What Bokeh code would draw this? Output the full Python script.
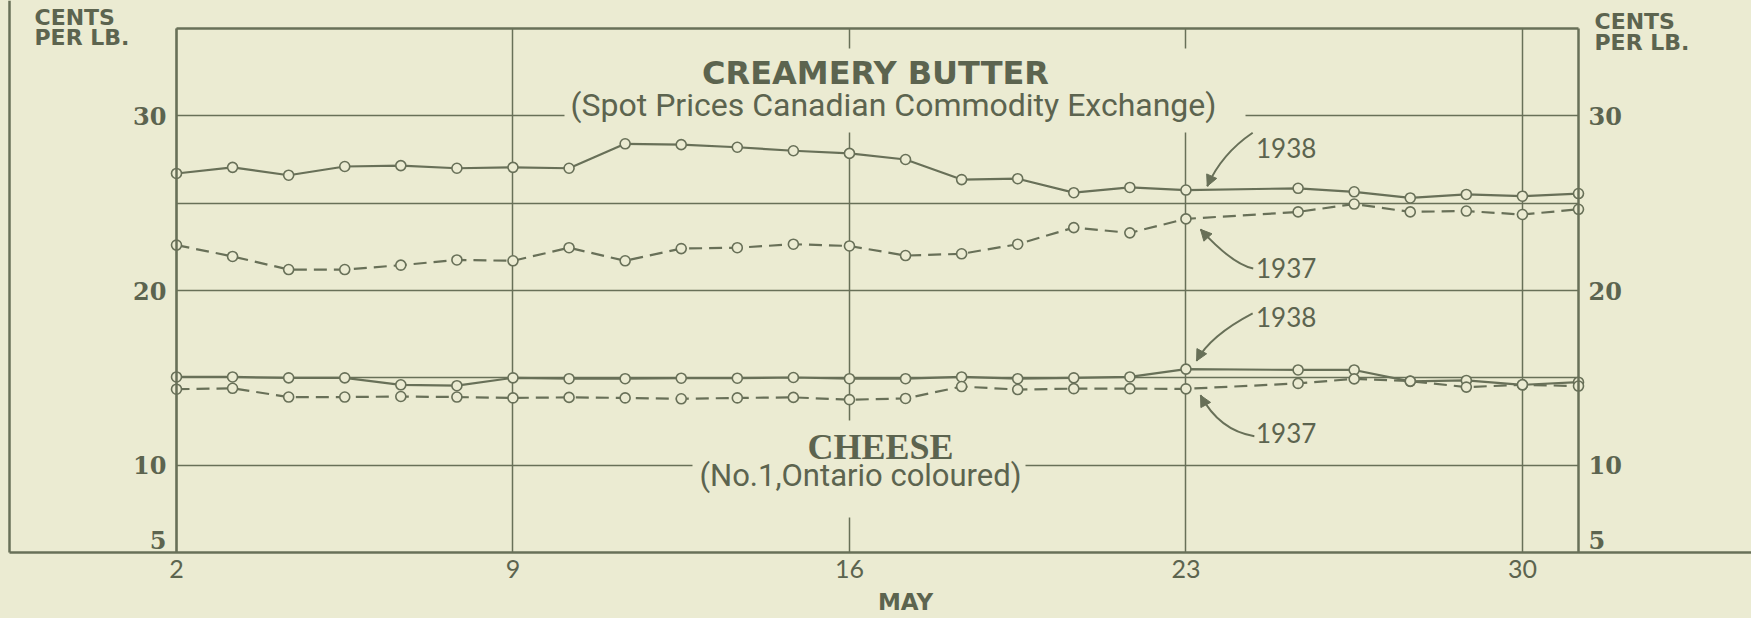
import datetime as dt
from bokeh.plotting import figure
from bokeh.models import (Range1d, LinearAxis, FixedTicker, Label, BoxAnnotation,
                          Arrow, NormalHead, ColumnDataSource)
from bokeh.embed import file_html
from bokeh.resources import INLINE

# ---------------- data (cents per lb), trading days of May ----------------
days = [2, 3, 4, 5, 6, 7, 9, 10, 11, 12, 13, 14, 16, 17, 18, 19, 20, 21,
        23, 25, 26, 27, 28, 30, 31]
butter_1938 = [26.7, 27.05, 26.6, 27.1, 27.15, 27.0, 27.05, 27.0, 28.4, 28.35,
               28.2, 28.0, 27.85, 27.5, 26.35, 26.4, 25.6, 25.9, 25.75, 25.85,
               25.65, 25.3, 25.5, 25.4, 25.55]
butter_1937 = [22.6, 21.95, 21.2, 21.2, 21.45, 21.75, 21.7, 22.45, 21.7, 22.4,
               22.45, 22.65, 22.55, 22.0, 22.1, 22.65, 23.6, 23.3, 24.1, 24.5,
               24.95, 24.5, 24.55, 24.35, 24.65]
cheese_1938 = [15.05, 15.05, 15.0, 15.0, 14.6, 14.55, 15.0, 14.95, 14.95, 14.98,
               14.98, 15.02, 14.95, 14.95, 15.05, 14.95, 15.0, 15.05, 15.5, 15.45,
               15.45, 14.8, 14.85, 14.6, 14.75]
cheese_1937 = [14.35, 14.4, 13.9, 13.9, 13.93, 13.9, 13.85, 13.88, 13.85, 13.8,
               13.85, 13.88, 13.75, 13.82, 14.5, 14.33, 14.38, 14.38, 14.37, 14.68,
               14.94, 14.81, 14.47, 14.6, 14.53]
x_tick_days = [2, 9, 16, 23, 30]
y_tick_values = [5, 10, 20, 30]
y_grid_values = [10, 15, 20, 25, 30]
first_day, last_day = 2, 31
y_lo, y_hi = 5, 35

# ---------------- style / layout ----------------
BG = "#EBEBD2"
INK = "#687058"
TXT = "#5C644F"
W, H = 1751, 618
BOX_L, BOX_R, BOX_T, BOX_B = 176, 1578, 28, 552   # chart box on the sheet (px)

START = dt.date(1938, 5, 2)


def trading_pos(day):
    """Position on the chart's business-day axis (Sundays are not shown)."""
    d = dt.date(1938, 5, day)
    return sum(1 for k in range((d - START).days)
               if (START + dt.timedelta(days=k)).weekday() != 6)


x_lo, x_hi = trading_pos(first_day), trading_pos(last_day)
kx = (BOX_R - BOX_L) / (x_hi - x_lo)
ky = (BOX_B - BOX_T) / (y_hi - y_lo)


def X(px):
    return x_lo + (px - BOX_L) / kx


def Y(py):
    return y_hi - (py - BOX_T) / ky


xs = [trading_pos(d) for d in days]
src = ColumnDataSource(dict(x=xs, b38=butter_1938, b37=butter_1937,
                            c38=cheese_1938, c37=cheese_1937))

p = figure(width=W, height=H, output_backend="svg", toolbar_location=None,
           x_range=Range1d(X(0), X(W)), y_range=Range1d(Y(H), Y(0)),
           min_border=0, background_fill_color=BG, border_fill_color=BG)
p.outline_line_color = None

# grids limited to the chart box
xg, yg = p.xgrid[0], p.ygrid[0]
xg.ticker = FixedTicker(ticks=[trading_pos(d) for d in x_tick_days])
xg.cross_bounds = (y_lo, y_hi)
yg.ticker = FixedTicker(ticks=y_grid_values)
yg.cross_bounds = (x_lo, x_hi)
for g in (xg, yg):
    g.grid_line_color = INK
    g.grid_line_width = 1.5


def style_axis(ax, width=2.5):
    ax.axis_line_color = INK
    ax.axis_line_width = width
    ax.major_tick_line_color = None
    ax.minor_tick_line_color = None
    ax.major_tick_out = 0
    ax.major_tick_in = 0
    ax.minor_tick_out = 0
    ax.minor_tick_in = 0


# x axis (bottom edge of the sheet frame)
xa = p.xaxis[0]
xa.fixed_location = y_lo
xa.bounds = (X(9), X(W))
xa.ticker = FixedTicker(ticks=[trading_pos(d) for d in x_tick_days])
xa.major_label_overrides = {trading_pos(d): str(d) for d in x_tick_days}
style_axis(xa)
xa.major_label_text_font = "Lato"
xa.major_label_text_font_size = "25px"
xa.major_label_text_color = TXT
xa.major_label_standoff = 7

# y axes: left and right edges of the chart box.  The lowest label sits just
# above the bottom edge, as it is lettered on the sheet.
label_pos = {v: (Y(BOX_B - 13) if v == y_lo else v) for v in y_tick_values}
ya = p.yaxis[0]
ya.fixed_location = x_lo
yr = LinearAxis(fixed_location=x_hi)
p.add_layout(yr, "right")
for ax in (ya, yr):
    ax.bounds = (y_lo, y_hi)
    ax.ticker = FixedTicker(ticks=list(label_pos.values()))
    ax.major_label_overrides = {pos: str(v) for v, pos in label_pos.items()}
    style_axis(ax)
    ax.major_label_text_font = "DejaVu Serif"
    ax.major_label_text_font_style = "bold"
    ax.major_label_text_font_size = "24px"
    ax.major_label_text_color = TXT
    ax.major_label_standoff = 10

# top edge of the chart box and left edge of the sheet
top = LinearAxis(fixed_location=y_hi, bounds=(x_lo, x_hi), ticker=FixedTicker(ticks=[]))
style_axis(top)
p.add_layout(top, "above")
sheet = LinearAxis(fixed_location=X(9), bounds=(y_lo, Y(0)), ticker=FixedTicker(ticks=[]))
style_axis(sheet)
p.add_layout(sheet, "left")

# masks that interrupt the grid behind the titles
p.add_layout(BoxAnnotation(left=X(564), right=X(1245), bottom=Y(132), top=Y(48),
                           fill_color=BG, fill_alpha=1.0, line_color=None))
p.add_layout(BoxAnnotation(left=X(692), right=X(1025), bottom=Y(517), top=Y(420),
                           fill_color=BG, fill_alpha=1.0, line_color=None))

# series
for col, dash in (("b38", "solid"), ("b37", "13 7"), ("c38", "solid"), ("c37", "13 7")):
    p.line("x", col, source=src, line_color=INK, line_width=2.2, line_dash=dash)
    p.scatter("x", col, source=src, marker="circle", size=10, line_color=INK,
              line_width=1.6, fill_color=BG)


def label(x, y, text, font, size, style="normal", align="center", baseline="middle"):
    p.add_layout(Label(x=x, y=y, text=text, text_font=font, text_font_size=size,
                       text_font_style=style, text_align=align,
                       text_baseline=baseline, text_color=TXT))


# titles
label(X(875), Y(72), "CREAMERY BUTTER", "DejaVu Sans", "32px", "bold")
label(X(893), Y(104), "(Spot Prices Canadian Commodity Exchange)", "Roboto", "32px")
label(X(880), Y(446), "CHEESE", "Liberation Serif", "36px", "bold")
label(X(860), Y(475), "(No.1,Ontario coloured)", "Roboto", "31px")

# units and month
label(X(34), Y(17), "CENTS", "DejaVu Sans", "22px", "bold", "left")
label(X(34), Y(37), "PER LB.", "DejaVu Sans", "22px", "bold", "left")
label(X(1594), Y(21), "CENTS", "DejaVu Sans", "22px", "bold", "left")
label(X(1594), Y(42), "PER LB.", "DejaVu Sans", "22px", "bold", "left")
label(X(905), Y(588), "MAY", "DejaVu Sans", "23px", "bold", "center", "top")

# year call-outs with curved arrows: (text y, start, mid, tip) in data units
callouts = [
    ("1938", 28.15, (19.19, 29.03), (18.71, 27.66), (18.38, 25.97)),
    ("1937", 21.3, (19.2, 21.26), (18.78, 21.94), (18.26, 23.5)),
    ("1938", 18.46, (19.19, 18.69), (18.56, 17.37), (18.19, 15.97)),
    ("1937", 11.83, (19.22, 11.66), (18.67, 12.4), (18.26, 14.0)),
]
for txt, ty, s, m, t in callouts:
    label(19.25, ty, txt, "Lato", "26px", "normal", "left")
    cx = 2 * m[0] - 0.5 * (s[0] + t[0])
    cy = 2 * m[1] - 0.5 * (s[1] + t[1])
    p.quadratic(x0=[s[0]], y0=[s[1]], x1=[t[0]], y1=[t[1]], cx=[cx], cy=[cy],
                line_color=INK, line_width=2)
    bx = t[0] + 0.2 * (cx - t[0])
    by = t[1] + 0.2 * (cy - t[1])
    p.add_layout(Arrow(end=NormalHead(size=11, fill_color=INK, line_color=INK),
                       x_start=bx, y_start=by, x_end=t[0], y_end=t[1],
                       line_color=INK, line_width=2))

template = """
{% block preamble %}
<style>html, body { background-color: #EBEBD2; }</style>
{% endblock %}
"""
html = file_html(p, INLINE, title="Butter and cheese prices, May 1938", template=template)
open("out.html", "w").write(html)
